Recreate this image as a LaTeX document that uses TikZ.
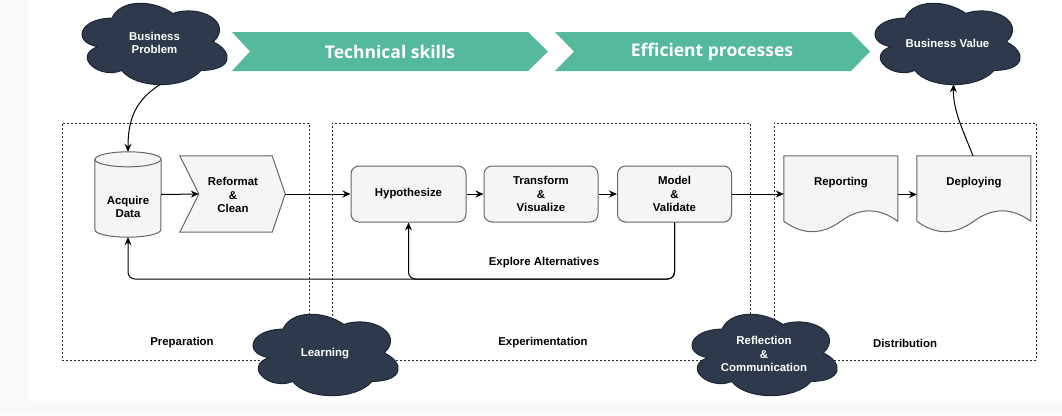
\documentclass[tikz,border=0pt]{standalone}
\usepackage{fontspec}
\setmainfont{Liberation Sans}
\newfontfamily\chevfont{Open Sans}
\usetikzlibrary{arrows.meta}

\definecolor{teal1}{HTML}{55B99B}
\definecolor{cloudfill}{HTML}{2E3A4C}
\definecolor{cloudline}{HTML}{1C2633}
\definecolor{boxfill}{HTML}{F5F5F5}
\definecolor{boxline}{HTML}{666666}
\definecolor{bggray}{HTML}{F8F9FA}

\newcommand\mycloud[4]{%
 \path[fill=cloudfill, draw=cloudline, line width=1pt] ({#1+0.25*#3},{#2+0.25*#4})
  .. controls ({#1+0.05*#3},{#2+0.25*#4}) and ({#1},{#2+0.5*#4}) .. ({#1+0.16*#3},{#2+0.55*#4})
  .. controls ({#1},{#2+0.66*#4}) and ({#1+0.18*#3},{#2+0.9*#4}) .. ({#1+0.31*#3},{#2+0.8*#4})
  .. controls ({#1+0.4*#3},{#2+#4}) and ({#1+0.7*#3},{#2+#4}) .. ({#1+0.8*#3},{#2+0.8*#4})
  .. controls ({#1+#3},{#2+0.8*#4}) and ({#1+#3},{#2+0.6*#4}) .. ({#1+0.875*#3},{#2+0.5*#4})
  .. controls ({#1+#3},{#2+0.3*#4}) and ({#1+0.8*#3},{#2+0.1*#4}) .. ({#1+0.625*#3},{#2+0.2*#4})
  .. controls ({#1+0.5*#3},{#2+0.05*#4}) and ({#1+0.3*#3},{#2+0.05*#4}) .. cycle;}

\newcommand\docpath[1]{\path[shapesty, shift={(#1.north west)}] (0,0) -- (114,0) -- (114,65.45)
  .. controls (95,51.59) and (76,51.59) .. (57,65.45)
  .. controls (38,79.31) and (19,79.31) .. (0,65.45) -- cycle;}

\tikzset{
 lbl/.style={font=\fontsize{11.4}{13.5}\selectfont\bfseries, align=center, inner sep=0pt},
 cloudtxt/.style={lbl, text=white, minimum width=145, minimum height=82},
 shapesty/.style={draw=boxline, fill=boxfill, line width=1pt},
 proc/.style={lbl, shapesty, rounded corners=8pt, minimum width=115, minimum height=56},
 holder/.style={inner sep=0pt},
 arr/.style={-{Stealth[length=8pt,width=7pt]}, line width=1pt},
 dbox/.style={draw=black!85, dash pattern=on 2pt off 2pt, line width=1pt, inner sep=0pt},
 chev/.style={fill=teal1},
 chevtxt/.style={text=white, inner sep=0pt, font={\chevfont\fontsize{17.5}{20}\selectfont\bfseries}}
}

\begin{document}
\begin{tikzpicture}[x=1pt,y=-1pt]
\useasboundingbox (0,0) rectangle (1062,415);
\fill[white] (0,0) rectangle (1062,415);
\fill[bggray] (0,0) rectangle (28,415);
\fill[bggray] (0,401) rectangle (1062,415);

% chevrons
\path[chev] (232,32) -- (528,32) -- (548,51.5) -- (528,71) -- (232,71) -- (250,51.5) -- cycle;
\path[chev] (555,32) -- (851,32) -- (870,51.5) -- (851,71) -- (555,71) -- (574,51.5) -- cycle;
\node[chevtxt] (tech) at (390,51.5) {Technical skills};
\node[chevtxt] (eff) at (712,51.5) {Efficient processes};

% dashed containers
\node[dbox, minimum width=247, minimum height=237] (prep) at (185.5,241.5) {};
\node[dbox, minimum width=418, minimum height=237] (expe) at (541,241.5) {};
\node[dbox, minimum width=262, minimum height=237] (dist) at (905,241.5) {};
\node[lbl] (preplbl) at (182,343) {Preparation};
\node[lbl] (expelbl) at (543,343) {Experimentation};
\node[lbl] (distlbl) at (905,343) {Distribution};

% acquire data cylinder
\node[holder, minimum width=66, minimum height=85] (acq) at (128,194.5) {};
\path[shapesty] ([yshift=-7.5pt]acq.north west) -- ([yshift=7.5pt]acq.south west)
  arc[start angle=180,end angle=360,x radius=33pt,y radius=7.5pt]
  -- ([yshift=-7.5pt]acq.north east)
  arc[start angle=0,end angle=180,x radius=33pt,y radius=7.5pt] -- cycle;
\draw[boxline, line width=1pt] ([yshift=-7.5pt]acq.north west)
  arc[start angle=180,end angle=360,x radius=33pt,y radius=7.5pt];
\node[lbl] (acqt) at (128,207) {Acquire\\Data};

% reformat step
\node[holder, minimum width=105, minimum height=76] (ref) at (232.5,194) {};
\path[shapesty] (ref.north west) -- ([xshift=-13pt]ref.north east) -- (ref.east)
  -- ([xshift=-13pt]ref.south east) -- (ref.south west) -- ([xshift=19pt]ref.west) -- cycle;
\node[lbl] (reft) at (233,195) {Reformat\\\&\\Clean};

% process boxes
\node[proc] (hyp) at (408.5,194) {Hypothesize};
\node[proc, minimum width=114] (trf) at (541,194) {Transform\\\&\\Visualize};
\node[proc, minimum width=114] (mod) at (674.5,194) {Model\\\&\\Validate};

% documents
\node[holder, minimum width=114, minimum height=77] (rep) at (841,194.5) {};
\docpath{rep}
\node[lbl] (rept) at (841,183) {Reporting};
\node[holder, minimum width=114, minimum height=77] (dep) at (974,194.5) {};
\docpath{dep}
\node[lbl] (dept) at (974,183) {Deploying};

% connectors
\draw[arr] (acq.east) -- ([xshift=19pt]ref.west);
\draw[arr] (ref.east) -- (ref.east -| hyp.west);
\draw[arr] (hyp.east) -- (trf.west);
\draw[arr] (trf.east) -- (mod.west);
\draw[arr] (mod.east) -- (mod.east -| rep.west);
\draw[arr] (rep.east) -- (dep.west);

\coordinate (loopy) at (0,279);
\draw[arr, rounded corners=7pt] (mod.south) -- (mod.south |- loopy) -- (acq.south |- loopy) -- (acq.south);
\draw[arr, rounded corners=7pt] (mod.south) -- (mod.south |- loopy) -- (hyp.south |- loopy) -- (hyp.south);
\node[lbl] (explbl) at (544,263) {Explore Alternatives};

% clouds
\mycloud{71.5}{-5.6}{162}{95}
\node[cloudtxt] (bp) at (154.5,43) {Business\\Problem};
\mycloud{864.5}{-5.6}{162}{95}
\node[cloudtxt] (bv) at (947.5,43) {Business Value};
\mycloud{242.5}{305.4}{162}{95}
\node[cloudtxt] (learn) at (325,354) {Learning};
\mycloud{681.5}{305.4}{162}{95}
\node[cloudtxt] (refl) at (764,354) {Reflection\\\&\\Communication};

\draw[arr] ([xshift=6pt]bp.south) .. controls (136,100) and (128,118) .. (acq.north);
\draw[arr] ([xshift=-1pt]dep.north) .. controls (962,128) and (953,110) .. ([xshift=6pt]bv.south);
\end{tikzpicture}
\end{document}
